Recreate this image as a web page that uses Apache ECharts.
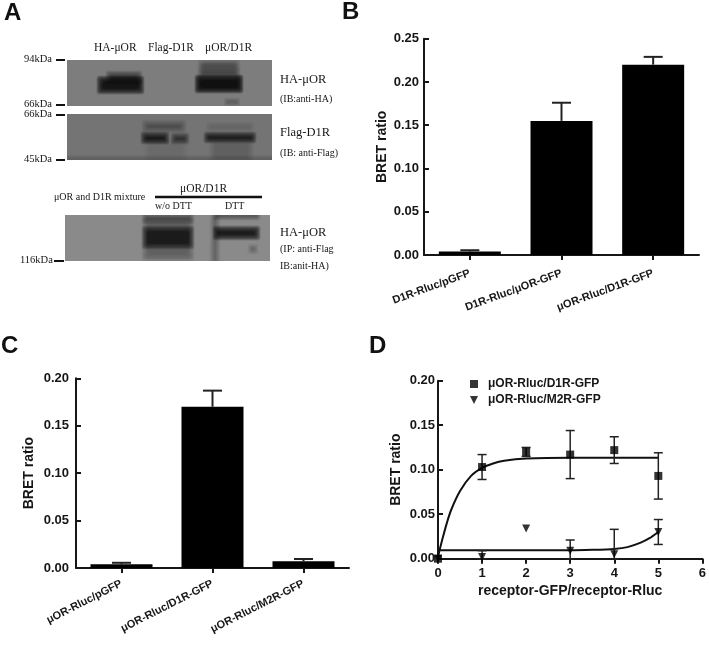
<!DOCTYPE html>
<html>
<head>
<meta charset="utf-8">
<style>html,body{margin:0;padding:0;background:#fff}#c{width:709px;height:650px}</style>
<script src="https://cdn.jsdelivr.net/npm/echarts@6/dist/echarts.min.js"></script>
</head>
<body>
<div id="c"></div>
<script>
// Panel B
var catsB = ['D1R-Rluc/pGFP', 'D1R-Rluc/μOR-GFP', 'μOR-Rluc/D1R-GFP'];
var valsB = [0.004, 0.155, 0.22];
var errTopB = [0.0055, 0.176, 0.229];
// Panel C
var catsC = ['μOR-Rluc/pGFP', 'μOR-Rluc/D1R-GFP', 'μOR-Rluc/M2R-GFP'];
var valsC = [0.004, 0.17, 0.007];
var errTopC = [0.0055, 0.187, 0.0095];
// Panel D
var nameD1 = 'μOR-Rluc/D1R-GFP';
var nameD2 = 'μOR-Rluc/M2R-GFP';
var pointsD1 = [[0, 0], [1, 0.103], [2, 0.12], [3, 0.117], [4, 0.122], [5, 0.093]];
var pointsD2 = [[0, 0], [1, 0.002], [2, 0.034], [3, 0.009], [4, 0.005], [5, 0.03]];
var errD1 = [[1, 0.089, 0.117], [2, 0.115, 0.125], [3, 0.09, 0.144], [4, 0.107, 0.137], [5, 0.067, 0.119]];
var errD2 = [[1, 0, 0.009], [3, 0, 0.021], [4, 0, 0.033], [5, 0.016, 0.044]];
var fitD1 = [[0, 0.003], [0.1, 0.022], [0.2, 0.04], [0.3, 0.055], [0.5, 0.076], [0.75, 0.093], [1, 0.102], [1.25, 0.107], [1.5, 0.11], [2, 0.1125], [3, 0.1135], [5, 0.1135]];
var fitD2 = [[0, 0.001], [0.05, 0.0095], [1, 0.0095], [3, 0.0095], [3.5, 0.01], [4, 0.011], [4.3, 0.013], [4.6, 0.018], [4.8, 0.023], [5, 0.03]];
// Panel A, blot bands: lane from, lane to, depth from, depth to, darkness
var bandsBlot1 = [
  [33, 74, 19, 31, 0.85], [42, 72, 14, 22, 0.6],
  [131, 173, 18, 30, 0.92], [134, 170, 1, 16, 0.22], [134, 170, 11, 15, 0.3], [134, 170, 5, 8, 0.22], [160, 170, 41, 43, 0.3]
];
var bandsBlot2 = [
  [77, 99, 21, 27, 0.8], [107, 119, 22, 27, 0.65], [78, 116, 9, 16, 0.3],
  [140, 186, 21, 26, 0.8], [142, 184, 11, 15, 0.15], [145, 184, 27, 46, 0.1], [80, 118, 27, 46, 0.08], [0, 205, 44.5, 46, 0.25]
];
var bandsBlot3 = [
  [80, 126, 1, 6, 0.5], [80, 126, 14, 31, 0.72], [80, 126, 6, 41, 0.28], [80, 126, 41, 46, 0.12],
  [151, 192, 14, 22, 0.82], [151, 192, 0, 2, 0.5], [148, 152, 2, 46, 0.3], [186, 190, 32, 36, 0.3]
];

var serifF = '"Liberation Serif"';
var sansF = '"Liberation Sans"';
var ink = '#161616';

var texts = [
  ['A', 4, 14, 24, 'sans'], ['B', 342, 13, 24, 'sans'], ['C', 1, 347, 24, 'sans'], ['D', 369, 347, 24, 'sans'],
  ['HA-μOR', 94, 49, 11.5], ['Flag-D1R', 148, 49, 11.5], ['μOR/D1R', 205, 49, 11.5],
  ['94kDa', 24, 60, 10.5], ['66kDa', 24, 105, 10.5], ['66kDa', 24, 115, 10.5], ['45kDa', 24, 160, 10.5], ['116kDa', 20, 261, 10.5],
  ['HA-μOR', 280, 80, 12.5], ['(IB:anti-HA)', 280, 100, 10],
  ['Flag-D1R', 280, 133, 12.5], ['(IB: anti-Flag)', 280, 154, 10],
  ['μOR and D1R mixture', 54, 198, 10], ['μOR/D1R', 180, 190, 11.5],
  ['w/o DTT', 155, 207, 10], ['DTT', 225, 207, 10],
  ['HA-μOR', 280, 233, 12.5], ['(IP: anti-Flag', 280, 250, 10], ['IB:anit-HA)', 280, 267, 10]
];
var rules = [
  [56, 65, 60, 2], [56, 65, 105, 2], [56, 65, 115, 2], [56, 65, 160, 2], [54, 64, 261, 2], [155, 262, 197, 2.5]
];

function blotGrid(l, t, bg) { return { left: l, top: t, width: 205, height: 46, show: true, backgroundColor: bg, borderWidth: 0 }; }
function hiddenX(i) { return { gridIndex: i, type: 'value', min: 0, max: 205, show: false }; }
function hiddenY(i) { return { gridIndex: i, type: 'value', min: 0, max: 46, inverse: true, show: false }; }
function blotSeries(i, data) {
  return {
    type: 'custom', xAxisIndex: i, yAxisIndex: i, data: data, clip: true, silent: true,
    renderItem: function (p, api) {
      var a = api.coord([api.value(0), api.value(2)]);
      var b = api.coord([api.value(1), api.value(3)]);
      var d = api.value(4);
      // soft edge: nested translucent rectangles that grow outwards
      var n = 10, la = 1 - Math.pow(1 - d, 1 / n), kids = [];
      for (var k = 0; k < n; k++) {
        var g = 3.5 - k * 0.7;
        var w = b[0] - a[0] + 2 * g, h = b[1] - a[1] + 2 * g;
        if (w <= 0 || h <= 0) { continue; }
        kids.push({
          type: 'rect',
          shape: { x: a[0] - g, y: a[1] - g, width: w, height: h, r: Math.min(3, h / 2) },
          style: { fill: 'rgba(8,8,8,' + la + ')' }
        });
      }
      return { type: 'group', children: kids };
    }
  };
}
function catAxis(i, cats, rot, mg) {
  return {
    gridIndex: i, type: 'category', data: cats,
    axisLine: { lineStyle: { color: ink, width: 2 } },
    axisTick: { show: true, alignWithLabel: true, length: 5, lineStyle: { color: ink, width: 2 } },
    axisLabel: { interval: 0, rotate: rot, margin: mg, fontFamily: sansF, fontWeight: 'bold', fontSize: 11, color: ink }
  };
}
function valAxis(i, max, gap, mg) {
  return {
    gridIndex: i, type: 'value', min: 0, max: max, interval: 0.05,
    name: 'BRET ratio', nameLocation: 'middle', nameGap: gap, nameRotate: 90,
    nameTextStyle: { fontFamily: sansF, fontWeight: 'bold', fontSize: 14, color: ink },
    axisLine: { show: true, lineStyle: { color: ink, width: 2 } },
    axisTick: { show: true, inside: true, length: 5, lineStyle: { color: ink, width: 2 } },
    splitLine: { show: false },
    axisLabel: {
      margin: mg, fontFamily: sansF, fontWeight: 'bold', fontSize: 13, color: ink,
      formatter: function (v) { return v.toFixed(2); }
    }
  };
}
function barSeries(i, vals) {
  return { type: 'bar', xAxisIndex: i, yAxisIndex: i, data: vals, barWidth: 62, itemStyle: { color: '#000' }, z: 3 };
}
function errSeries(i, data, capHalf, lw) {
  return {
    type: 'custom', xAxisIndex: i, yAxisIndex: i, data: data, clip: false, silent: true, z: 4,
    encode: { x: 0, y: [1, 2] },
    renderItem: function (p, api) {
      var lo = api.coord([api.value(0), api.value(1)]);
      var hi = api.coord([api.value(0), api.value(2)]);
      var st = { stroke: '#222', lineWidth: lw, fill: null };
      var kids = [
        { type: 'line', shape: { x1: lo[0], y1: lo[1], x2: hi[0], y2: hi[1] }, style: st },
        { type: 'line', shape: { x1: hi[0] - capHalf, y1: hi[1], x2: hi[0] + capHalf, y2: hi[1] }, style: st }
      ];
      if (api.value(3) !== 1) {
        kids.push({ type: 'line', shape: { x1: lo[0] - capHalf, y1: lo[1], x2: lo[0] + capHalf, y2: lo[1] }, style: st });
      }
      return { type: 'group', children: kids };
    }
  };
}
function barErr(cats, vals, tops) {
  return cats.map(function (c, k) { return [k, vals[k], tops[k], 1]; });
}

var graphic = [];
texts.forEach(function (t) {
  var isSans = t[4] === 'sans';
  graphic.push({
    type: 'text', left: t[1], top: t[2] - t[3] / 2 - 1, silent: true,
    style: {
      text: t[0], fill: isSans ? '#111' : ink, fontSize: t[3],
      fontFamily: isSans ? sansF : serifF, fontWeight: isSans ? 'bold' : 'normal'
    }
  });
});
rules.forEach(function (r) {
  graphic.push({
    type: 'line', silent: true,
    shape: { x1: r[0], y1: r[2], x2: r[1], y2: r[2] },
    style: { stroke: '#111', lineWidth: r[3] }
  });
});

var chart = echarts.init(document.getElementById('c'), null, { renderer: 'canvas' });
chart.setOption({
  animation: false,
  backgroundColor: '#fff',
  grid: [
    blotGrid(67, 60, '#7d7d7d'), blotGrid(67, 114, '#747474'), blotGrid(65, 215, '#8a8a8a'),
    { left: 424, top: 38.7, width: 275, height: 216.3 },
    { left: 76, top: 378.3, width: 273, height: 189.7 },
    { left: 438, top: 380.7, width: 266, height: 178 }
  ],
  xAxis: [
    hiddenX(0), hiddenX(1), hiddenX(2),
    catAxis(3, catsB, 20, 18), catAxis(4, catsC, 27, 15),
    {
      gridIndex: 5, type: 'value', min: 0, max: 6, interval: 1,
      name: 'receptor-GFP/receptor-Rluc', nameLocation: 'middle', nameGap: 25,
      nameTextStyle: { fontFamily: sansF, fontWeight: 'bold', fontSize: 14, color: ink },
      axisLine: { lineStyle: { color: ink, width: 2 } },
      axisTick: { show: true, length: 5, lineStyle: { color: ink, width: 2 } },
      splitLine: { show: false },
      axisLabel: { margin: 8, fontFamily: sansF, fontWeight: 'bold', fontSize: 13, color: ink }
    }
  ],
  yAxis: [
    hiddenY(0), hiddenY(1), hiddenY(2),
    valAxis(3, 0.25, 35, 5), valAxis(4, 0.2, 40, 7), valAxis(5, 0.2, 35, 3)
  ],
  legend: {
    orient: 'vertical', left: 465, top: 373, itemWidth: 8, itemHeight: 8, itemGap: 4,
    data: [
      { name: nameD1, icon: 'rect' },
      { name: nameD2, icon: 'path://M0,0 L10,0 L5,10 Z' }
    ],
    selectedMode: false,
    textStyle: { fontFamily: sansF, fontWeight: 'bold', fontSize: 12, color: ink, padding: [0, 0, 0, 5] }
  },
  graphic: graphic,
  series: [
    blotSeries(0, bandsBlot1), blotSeries(1, bandsBlot2), blotSeries(2, bandsBlot3),
    barSeries(3, valsB), errSeries(3, barErr(catsB, valsB, errTopB), 9.5, 2),
    barSeries(4, valsC), errSeries(4, barErr(catsC, valsC, errTopC), 9.5, 2),
    { type: 'line', xAxisIndex: 5, yAxisIndex: 5, name: 'fit1', data: fitD1, smooth: 0.3, showSymbol: false, symbol: 'none', clip: false, lineStyle: { color: '#111', width: 2 }, z: 3 },
    { type: 'line', xAxisIndex: 5, yAxisIndex: 5, name: 'fit2', data: fitD2, smooth: 0.2, showSymbol: false, symbol: 'none', clip: false, lineStyle: { color: '#111', width: 2 }, z: 3 },
    errSeries(5, errD1, 4.5, 1.5), errSeries(5, errD2, 4.5, 1.5),
    { type: 'scatter', xAxisIndex: 5, yAxisIndex: 5, name: nameD1, data: pointsD1, symbol: 'rect', symbolSize: 8, clip: false, itemStyle: { color: '#000' }, z: 5 },
    { type: 'scatter', xAxisIndex: 5, yAxisIndex: 5, name: nameD2, data: pointsD2, symbol: 'triangle', symbolRotate: 180, symbolSize: 8, clip: false, itemStyle: { color: '#000' }, z: 5 }
  ]
});
</script>
</body>
</html>
